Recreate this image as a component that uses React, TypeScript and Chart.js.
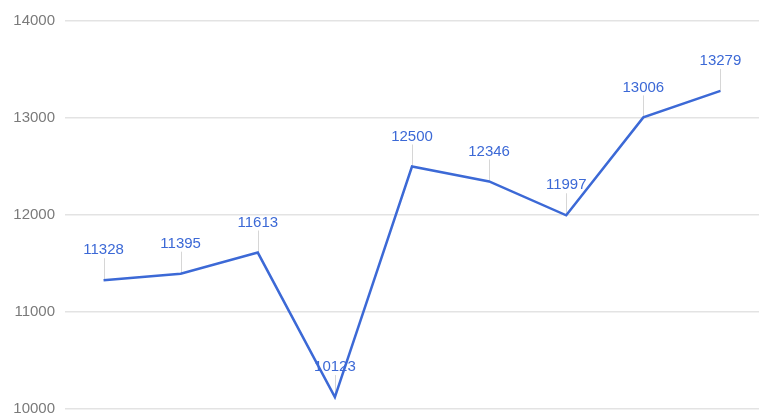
import React, { useEffect, useRef } from "react";
import { Chart, registerables } from "chart.js";

Chart.register(...registerables);

const categories = ["1", "2", "3", "4", "5", "6", "7", "8", "9"];
const values = [11328, 11395, 11613, 10123, 12500, 12346, 11997, 13006, 13279];
const yTicks = [10000, 11000, 12000, 13000, 14000];

const LINE_COLOR = "#3c69d6";
const FONT = "Arial, 'Liberation Sans', sans-serif";

const labelPlugin = {
  id: "pointLabels",
  beforeDatasetsDraw(chart: any) {
    const ctx = chart.ctx;
    const meta = chart.getDatasetMeta(0);
    ctx.save();
    ctx.strokeStyle = "#d6d6d6";
    ctx.lineWidth = 1;
    meta.data.forEach((pt: any) => {
      const x = Math.round(pt.x) + 0.5;
      ctx.beginPath();
      ctx.moveTo(x, pt.y);
      ctx.lineTo(x, pt.y - 22);
      ctx.stroke();
    });
    ctx.restore();
  },
  afterDatasetsDraw(chart: any) {
    const ctx = chart.ctx;
    const meta = chart.getDatasetMeta(0);
    const data = chart.data.datasets[0].data;
    ctx.save();
    ctx.fillStyle = LINE_COLOR;
    ctx.font = `15px ${FONT}`;
    ctx.textAlign = "center";
    ctx.textBaseline = "middle";
    meta.data.forEach((pt: any, i: number) => {
      ctx.fillText(String(data[i]), pt.x, pt.y - 30);
    });
    ctx.restore();
  },
};

export default function App() {
  const ref = useRef<HTMLCanvasElement>(null);
  useEffect(() => {
    document.body.style.margin = "0";
    const chart = new Chart(ref.current!, {
      type: "line",
      data: {
        labels: categories,
        datasets: [
          {
            data: values,
            borderColor: LINE_COLOR,
            borderWidth: 2.5,
            pointRadius: 0,
            tension: 0,
            fill: false,
          },
        ],
      },
      options: {
        animation: false,
        responsive: true,
        maintainAspectRatio: false,
        layout: { padding: { top: 21, bottom: 4, left: 0, right: 0 } },
        plugins: {
          legend: { display: false },
          tooltip: { enabled: false },
        },
        scales: {
          x: {
            display: false,
            offset: true,
            grid: { display: false },
          },
          y: {
            min: 10000,
            max: 14000,
            afterBuildTicks: (scale: any) => {
              scale.ticks = yTicks.map((v) => ({ value: v }));
            },
            afterFit: (scale: any) => {
              scale.width = 65;
              scale.paddingTop = 0;
              scale.paddingBottom = 0;
            },
            border: { display: false },
            grid: { color: "#e3e3e3", lineWidth: 1.5, drawTicks: false },
            ticks: {
              padding: 10,
              color: "#7a7a7a",
              font: { family: FONT, size: 15 },
              callback: (v: any) => String(v),
            },
          },
        },
      },
      plugins: [labelPlugin],
    });
    return () => chart.destroy();
  }, []);
  return (
    <div style={{ width: 759, height: 413, position: "relative" }}>
      <canvas ref={ref} />
    </div>
  );
}
